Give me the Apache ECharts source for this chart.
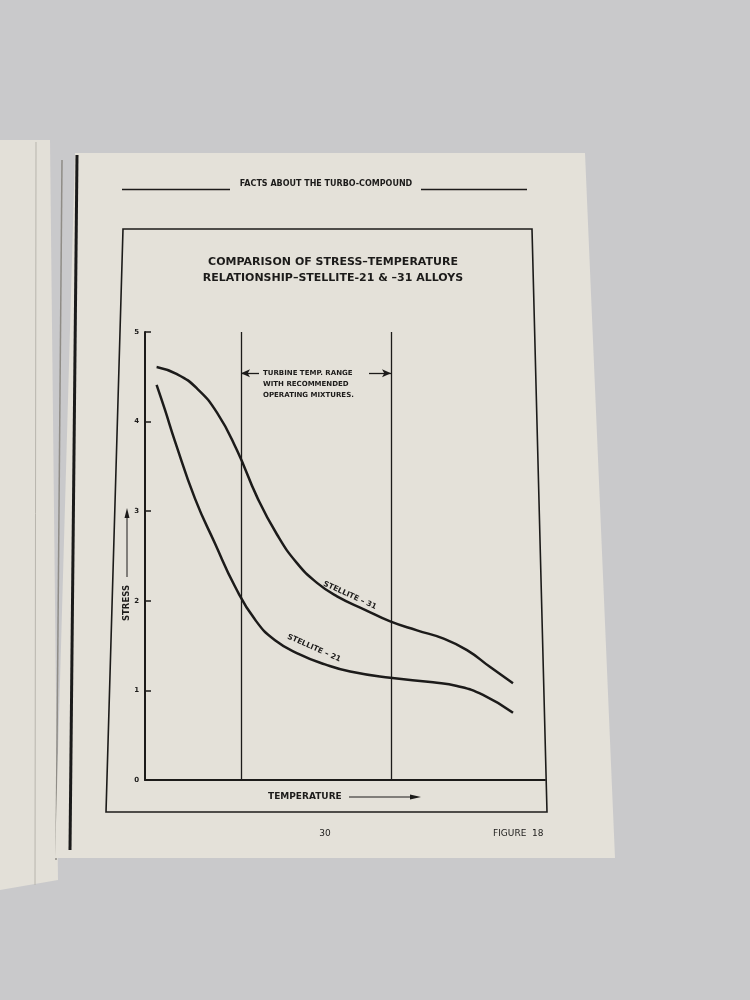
<!DOCTYPE html>
<html>
<head>
<meta charset="utf-8">
<script src="https://cdn.jsdelivr.net/npm/echarts@6/dist/echarts.min.js"></script>
<style>
html,body{margin:0;padding:0;background:#c9c9cb;}
#chart{width:750px;height:1000px;}
</style>
</head>
<body>
<div id="chart"></div>
<script>
// ---- data (temperature in arbitrary units 0-10, stress 0-5) ----
var yTicks = [0, 1, 2, 3, 4, 5];
var stellite31 = [
  [0.29, 4.61], [0.8, 4.53], [1.3, 4.37], [1.8, 4.10], [2.3, 3.68],
  [2.8, 3.16], [3.3, 2.74], [3.8, 2.42], [4.3, 2.20], [4.8, 2.05],
  [5.5, 1.90], [6.13, 1.77], [6.8, 1.67], [7.45, 1.58], [8.05, 1.45],
  [8.63, 1.26], [9.2, 1.08]
];
var stellite21 = [
  [0.29, 4.41], [0.5, 4.13], [0.75, 3.78], [1.25, 3.14], [1.75, 2.64],
  [2.25, 2.16], [2.75, 1.79], [3.25, 1.56], [3.88, 1.40], [4.5, 1.29],
  [5.13, 1.21], [6.13, 1.14], [7.2, 1.09], [7.8, 1.05], [8.45, 0.95],
  [9.2, 0.75]
];
var rangeBounds = [2.4, 6.15];
var rangeArrowY = 4.54;
var rangeText = 'TURBINE TEMP. RANGE\nWITH RECOMMENDED\nOPERATING MIXTURES.';
var titleText = 'COMPARISON OF STRESS\u2013TEMPERATURE\nRELATIONSHIP\u2013STELLITE-21 & \u201331 ALLOYS';

var INK = '#1c1b1a';
var FONT = 'DejaVu Sans';
var chart = echarts.init(document.getElementById('chart'));

chart.setOption({
  backgroundColor: '#c9c9cb',
  animation: false,
  title: {
    text: titleText,
    left: 328, top: 249, textAlign: 'center',
    textStyle: { fontFamily: FONT, fontWeight: 'bold', fontSize: 11, color: INK, lineHeight: 16 }
  },
  grid: { left: 145, top: 332, width: 400, height: 448, containLabel: false },
  xAxis: {
    type: 'value', min: 0, max: 10,
    axisLine: { show: true, onZero: true, lineStyle: { color: INK, width: 2 } },
    axisTick: { show: false }, axisLabel: { show: false }, splitLine: { show: false }
  },
  yAxis: {
    type: 'value', min: 0, max: 5, interval: 1,
    axisLine: { show: true, lineStyle: { color: INK, width: 2 } },
    axisTick: { show: true, inside: true, length: 6, lineStyle: { color: INK, width: 1.5 } },
    axisLabel: { color: INK, fontFamily: FONT, fontWeight: 'bold', fontSize: 7, margin: 6,
      formatter: function (v) { return yTicks.indexOf(v) >= 0 ? String(v) : ''; } },
    splitLine: { show: false }
  },
  series: [
    {
      name: 'STELLITE-31', type: 'line', data: stellite31, smooth: 0.5,
      showSymbol: false, lineStyle: { color: INK, width: 2.5 }, z: 3,
      markLine: {
        silent: true, symbol: 'none', animation: false,
        lineStyle: { color: INK, width: 1.3, type: 'solid' },
        label: { show: false },
        data: [{ xAxis: rangeBounds[0] }, { xAxis: rangeBounds[1] }]
      }
    },
    {
      name: 'STELLITE-21', type: 'line', data: stellite21, smooth: 0.5,
      showSymbol: false, lineStyle: { color: INK, width: 2.5 }, z: 3,
      markLine: {
        silent: true, animation: false,
        symbol: ['none', 'arrow'], symbolSize: [6, 9],
        lineStyle: { color: INK, width: 1.3, type: 'solid' },
        label: { show: false },
        data: [
          [{ coord: [rangeBounds[0] + 0.45, rangeArrowY] }, { coord: [rangeBounds[0], rangeArrowY] }],
          [{ coord: [rangeBounds[1] - 0.55, rangeArrowY] }, { coord: [rangeBounds[1], rangeArrowY] }]
        ]
      }
    }
  ],
  graphic: [
    // left stack of pages
    { type: 'polygon', z: -10, shape: { points: [[0,140],[50,140],[58,880],[0,890]] }, style: { fill: '#e3e0d8' } },
    { type: 'line', z: -9, shape: { x1: 36, y1: 142, x2: 35, y2: 885 }, style: { stroke: '#b9b6ae', lineWidth: 1 } },
    { type: 'line', z: -9, shape: { x1: 62, y1: 160, x2: 56, y2: 860 }, style: { stroke: '#8f8c86', lineWidth: 1.5 } },
    // page
    { type: 'polygon', z: -8, shape: { points: [[75,153],[585,153],[615,858],[55,858]] }, style: { fill: '#e4e1d9' } },
    { type: 'line', z: -7, shape: { x1: 77, y1: 155, x2: 70, y2: 850 }, style: { stroke: '#1a1a1a', lineWidth: 3 } },
    // frame
    { type: 'polygon', z: -6, shape: { points: [[123,229],[532,229],[547,812],[106,812]] },
      style: { fill: 'none', stroke: INK, lineWidth: 1.6 } },
    // header
    { type: 'line', shape: { x1: 122, y1: 189.5, x2: 230, y2: 189.5 }, style: { stroke: INK, lineWidth: 1.5 } },
    { type: 'line', shape: { x1: 421, y1: 189.5, x2: 527, y2: 189.5 }, style: { stroke: INK, lineWidth: 1.5 } },
    { type: 'text', x: 326, y: 184, style: { text: 'FACTS ABOUT THE TURBO-COMPOUND', fill: INK, font: 'bold 8px "DejaVu Sans"', textAlign: 'center', textVerticalAlign: 'middle' } },
    // range annotation text
    { type: 'text', x: 263, y: 368, style: { text: rangeText, fill: INK, font: 'bold 7px "DejaVu Sans"', lineHeight: 11, textAlign: 'left', textVerticalAlign: 'top' } },
    // curve labels
    { type: 'text', x: 322, y: 587, rotation: -0.43, style: { text: 'STELLITE \u2013 31', fill: INK, font: 'bold 7.5px "DejaVu Sans"', textVerticalAlign: 'bottom' } },
    { type: 'text', x: 286, y: 640, rotation: -0.42, style: { text: 'STELLITE \u2013 21', fill: INK, font: 'bold 7.5px "DejaVu Sans"', textVerticalAlign: 'bottom' } },
    // y-axis name with arrow
    { type: 'text', x: 127, y: 603, rotation: Math.PI / 2, style: { text: 'STRESS', fill: INK, font: 'bold 8.5px "DejaVu Sans"', textAlign: 'center', textVerticalAlign: 'middle' } },
    { type: 'line', shape: { x1: 127, y1: 577, x2: 127, y2: 515 }, style: { stroke: INK, lineWidth: 1 } },
    { type: 'polygon', shape: { points: [[127,508],[124.5,518],[129.5,518]] }, style: { fill: INK } },
    // x-axis name with arrow
    { type: 'text', x: 268, y: 797, style: { text: 'TEMPERATURE', fill: INK, font: 'bold 9px "DejaVu Sans"', textAlign: 'left', textVerticalAlign: 'middle' } },
    { type: 'line', shape: { x1: 349, y1: 797, x2: 412, y2: 797 }, style: { stroke: INK, lineWidth: 1 } },
    { type: 'polygon', shape: { points: [[421,797],[410,794.5],[410,799.5]] }, style: { fill: INK } },
    // footer
    { type: 'text', x: 325, y: 834, style: { text: '30', fill: INK, font: '9px "DejaVu Sans"', textAlign: 'center', textVerticalAlign: 'middle' } },
    { type: 'text', x: 493, y: 834, style: { text: 'FIGURE  18', fill: INK, font: '9px "DejaVu Sans"', textAlign: 'left', textVerticalAlign: 'middle' } }
  ]
});
</script>
</body>
</html>
